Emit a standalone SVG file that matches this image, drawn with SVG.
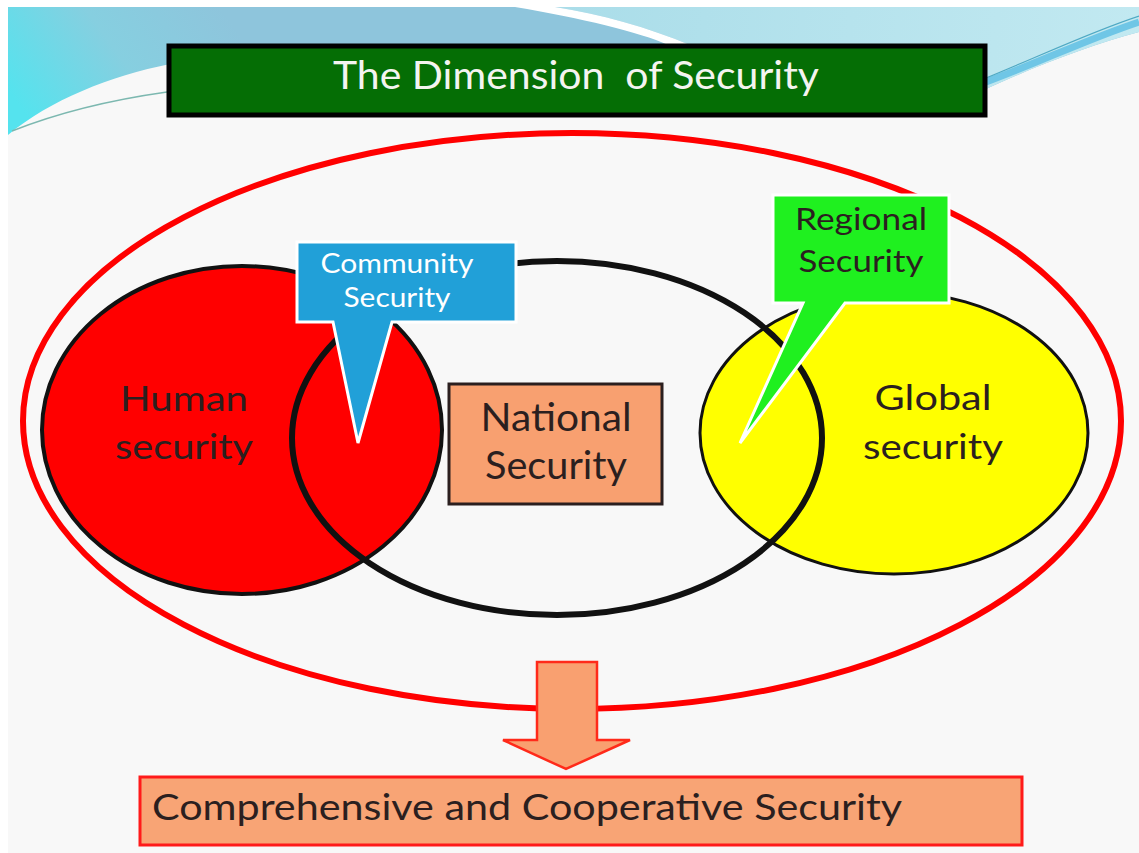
<svg xmlns="http://www.w3.org/2000/svg" width="1139" height="853" viewBox="0 0 1139 853">
<defs>
<linearGradient id="skyL" gradientUnits="userSpaceOnUse" x1="220" y1="7" x2="40" y2="135">
<stop offset="0" stop-color="#8ec5dc"/>
<stop offset="0.5" stop-color="#86cfe0"/>
<stop offset="1" stop-color="#55e3ee"/>
</linearGradient>
<linearGradient id="skyR" gradientUnits="userSpaceOnUse" x1="560" y1="0" x2="1139" y2="60">
<stop offset="0" stop-color="#aadde9"/>
<stop offset="1" stop-color="#c2e9f1"/>
</linearGradient>
<style>
.lbl{font-family:Lato,"Open Sans","Liberation Sans",sans-serif;text-anchor:middle;}
.dark{fill:#2b1f1f;}
.call{stroke:#ffffff;stroke-width:3;stroke-linejoin:miter;}
</style>
</defs>
<rect x="0" y="0" width="1139" height="853" fill="#ffffff"/>
<rect x="8" y="7" width="1131" height="846" fill="#f8f8f8"/>
<g id="background">
<path d="M8,7 H1139 V32 C1090,45 1030,68 980,92 L170,92 L170,64 C110,76 50,100 8,135 Z" fill="url(#skyL)"/>
<path d="M555,7 H1139 V32 C1090,45 1030,68 980,92 L690,92 L690,45 C650,28 600,14 555,7 Z" fill="url(#skyR)"/>
<path d="M515,7 C580,18 640,32 668,45 L690,45 C650,28 600,14 555,7 Z" fill="#ffffff"/>
<path d="M986,82 C1040,62 1090,38 1139,22" fill="none" stroke="#6fc6e6" stroke-width="7"/>
<path d="M986,78 C1040,56 1090,32 1139,16" fill="none" stroke="#4fa9c4" stroke-width="1.2"/>
<path d="M12,131 C60,112 110,100 167,92" fill="none" stroke="#7cb8b0" stroke-width="1.5"/>
</g>
<g id="outer">
<ellipse cx="572" cy="421" rx="549" ry="288" fill="none" stroke="#ff0000" stroke-width="6"/>
</g>
<g id="human">
<ellipse cx="242" cy="430" rx="200" ry="164" fill="#ff0000" stroke="#111111" stroke-width="4"/>
<text class="lbl dark" x="184" y="411" font-size="35" textLength="128" lengthAdjust="spacingAndGlyphs">Human</text>
<text class="lbl dark" x="184" y="459" font-size="35" textLength="138" lengthAdjust="spacingAndGlyphs">security</text>
</g>
<g id="global">
<ellipse cx="894" cy="433" rx="194" ry="141" fill="#ffff00" stroke="#111111" stroke-width="3"/>
<text class="lbl dark" x="933" y="410" font-size="35" textLength="117" lengthAdjust="spacingAndGlyphs">Global</text>
<text class="lbl dark" x="933" y="459" font-size="35" textLength="140" lengthAdjust="spacingAndGlyphs">security</text>
</g>
<g id="national-ring">
<ellipse cx="557" cy="438" rx="265" ry="177" fill="none" stroke="#111111" stroke-width="6"/>
</g>
<g id="national">
<rect x="449" y="384" width="213" height="120" fill="#f8a070" stroke="#2b1f1f" stroke-width="3"/>
<text class="lbl dark" x="556" y="431" font-size="38" textLength="151" lengthAdjust="spacingAndGlyphs">National</text>
<text class="lbl dark" x="556" y="479" font-size="38" textLength="142" lengthAdjust="spacingAndGlyphs">Security</text>
</g>
<g id="community">
<path class="call" d="M297,242 H516 V322 H392 L358,443 L333,322 H297 Z" fill="#21a0d8"/>
<text class="lbl" x="397" y="273" font-size="26" fill="#ffffff" textLength="153" lengthAdjust="spacingAndGlyphs">Community</text>
<text class="lbl" x="397" y="307" font-size="26" fill="#ffffff" textLength="107" lengthAdjust="spacingAndGlyphs">Security</text>
</g>
<g id="regional">
<path class="call" d="M773,195 H949 V303 H845 L740,443 L803,303 H773 Z" fill="#1ff01f"/>
<text class="lbl dark" x="861" y="230" font-size="30" textLength="132" lengthAdjust="spacingAndGlyphs">Regional</text>
<text class="lbl dark" x="861" y="272" font-size="30" textLength="125" lengthAdjust="spacingAndGlyphs">Security</text>
</g>
<g id="connectors">
<path d="M537,662 H597 V740 H630 L566,769 L503,740 H537 Z" fill="#f9a070" stroke="#ff2a1a" stroke-width="2.5"/>
</g>
<g id="result">
<rect x="140" y="777" width="882" height="68" fill="#f8a475" stroke="#ff1a1a" stroke-width="3"/>
<text x="152" y="820" font-size="37" class="dark" font-family="Lato,'Open Sans','Liberation Sans',sans-serif" textLength="750" lengthAdjust="spacingAndGlyphs">Comprehensive and Cooperative Security</text>
</g>
<g id="title">
<rect x="169" y="46" width="816" height="69" fill="#056e05" stroke="#000000" stroke-width="5"/>
<text x="333" y="89" font-size="38" fill="#f4f4f0" font-family="Lato,'Open Sans','Liberation Sans',sans-serif" textLength="486" lengthAdjust="spacingAndGlyphs" xml:space="preserve">The Dimension  of Security</text>
</g>
</svg>
